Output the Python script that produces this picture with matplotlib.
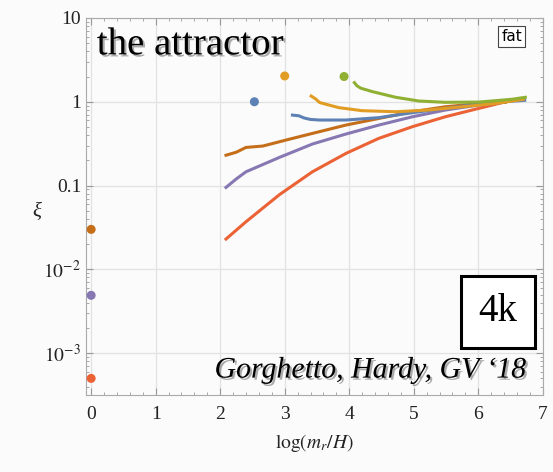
import numpy as np
import matplotlib
matplotlib.use("Agg")
import matplotlib.pyplot as plt
import matplotlib.patheffects as pe

# data (x = log(m_r/H), y = xi)
x_brown = [2.09, 2.25, 2.40, 2.66, 3.02, 3.43, 3.95, 4.46, 4.98, 5.49, 6.0, 6.42]
y_brown = [0.23, 0.25, 0.285, 0.296, 0.349, 0.419, 0.527, 0.632, 0.760, 0.871, 0.95, 0.99]

x_purple = [2.09, 2.25, 2.40, 2.92, 3.43, 3.95, 4.46, 4.98, 5.49, 6.01, 6.42]
y_purple = [0.095, 0.12, 0.146, 0.217, 0.313, 0.412, 0.527, 0.662, 0.796, 0.914, 0.99]

x_red = [2.09, 2.40, 2.92, 3.43, 3.95, 4.46, 4.98, 5.49, 6.01, 6.39]
y_red = [0.023, 0.037, 0.078, 0.146, 0.242, 0.366, 0.504, 0.662, 0.834, 0.984]

x_blue = [3.12, 3.22, 3.30, 3.40, 3.54, 3.95, 4.46, 4.98, 5.49, 6.01, 6.4, 6.72]
y_blue = [0.693, 0.68, 0.64, 0.615, 0.605, 0.605, 0.646, 0.740, 0.834, 0.940, 1.0, 1.04]

x_orange = [3.41, 3.48, 3.54, 3.64, 3.84, 4.20, 4.72, 5.23, 5.75, 6.27, 6.70]
y_orange = [1.17, 1.08, 0.98, 0.933, 0.850, 0.782, 0.760, 0.796, 0.871, 0.955, 1.07]

x_green = [4.08, 4.12, 4.18, 4.36, 4.72, 5.08, 5.49, 6.01, 6.52, 6.73]
y_green = [1.69, 1.55, 1.45, 1.32, 1.13, 1.02, 0.984, 0.991, 1.07, 1.13]

# initial values
dots_x = [2.53, 3.0, 3.92, 0.0, 0.0, 0.0]
dots_y = [1.0, 2.03, 2.0, 0.030, 0.0049, 0.0005]

c_blue = "#5E81B5"
c_orange = "#E19C24"
c_green = "#8FB032"
c_red = "#EB6235"
c_purple = "#8778B3"
c_brown = "#C56E1A"
dots_c = [c_blue, c_orange, c_green, c_brown, c_purple, c_red]

plt.rcParams["mathtext.fontset"] = "stix"
serif = "Liberation Serif"

fig = plt.figure(figsize=(5.53, 4.72), dpi=100, facecolor="#fbfbfb")
ax = fig.add_axes([0.1555, 0.163, 0.826, 0.799])
ax.set_facecolor("#fbfbfb")

lw = 2.2
ax.plot(x_red, y_red, color=c_red, lw=lw)
ax.plot(x_purple, y_purple, color=c_purple, lw=lw)
ax.plot(x_brown, y_brown, color=c_brown, lw=lw)
ax.plot(x_blue, y_blue, color=c_blue, lw=lw)
ax.plot(x_orange, y_orange, color=c_orange, lw=lw)
ax.plot(x_green, y_green, color=c_green, lw=lw)
ax.scatter(dots_x, dots_y, c=dots_c, s=30, zorder=3, clip_on=False)

ax.set_yscale("log")
ax.set_xlim(-0.08, 7.0)
ax.set_ylim(10 ** -3.5, 10)
ax.set_xticks([0, 1, 2, 3, 4, 5, 6, 7])
ax.set_xticks(np.arange(0, 7.01, 0.2), minor=True)
ax.set_yticks([1e-3, 1e-2, 0.1, 1, 10])
ax.set_yticklabels([r"$10^{-3}$", r"$10^{-2}$", "0.1", "1", "10"])
ax.grid(True, which="major", color="#e2e2e2", lw=0.9)
ax.tick_params(which="both", direction="in", top=True, right=True,
               color="#999999", labelsize=14, labelcolor="#222222")
ax.tick_params(which="major", length=5)
ax.tick_params(which="minor", length=2.5)
ax.tick_params(axis="x", pad=8)
for lab in ax.get_xticklabels() + ax.get_yticklabels():
    lab.set_fontfamily(serif)
for s in ax.spines.values():
    s.set_color("#aaaaaa")

ax.set_xlabel(r"$\log(m_r/H)$", fontsize=14, color="#222222", labelpad=6)
fig.text(0.067, 0.55, "\u03be", fontsize=15, family=serif, style="italic",
         color="#222222", ha="center", va="center")

shadow = [pe.SimplePatchShadow(offset=(1.5, -1.5), shadow_rgbFace="#888888", alpha=0.7), pe.Normal()]
fig.text(0.175, 0.905, "the attractor", fontsize=28, family=serif,
         va="center", path_effects=shadow)
fig.text(0.953, 0.2, "Gorghetto, Hardy, GV \u201818", fontsize=21.5, family=serif,
         style="italic", ha="right", va="baseline", path_effects=shadow)
fig.text(0.9, 0.34, "4k", fontsize=28, family=serif, ha="center", va="center",
         bbox=dict(boxstyle="square,pad=0.45", fc="white", ec="black", lw=2.2))
fig.text(0.925, 0.923, "fat", fontsize=11, family="DejaVu Sans", ha="center", va="center",
         bbox=dict(boxstyle="square,pad=0.2", fc="white", ec="#444444", lw=0.8))

fig.savefig("out.png", dpi=100, facecolor=fig.get_facecolor())
